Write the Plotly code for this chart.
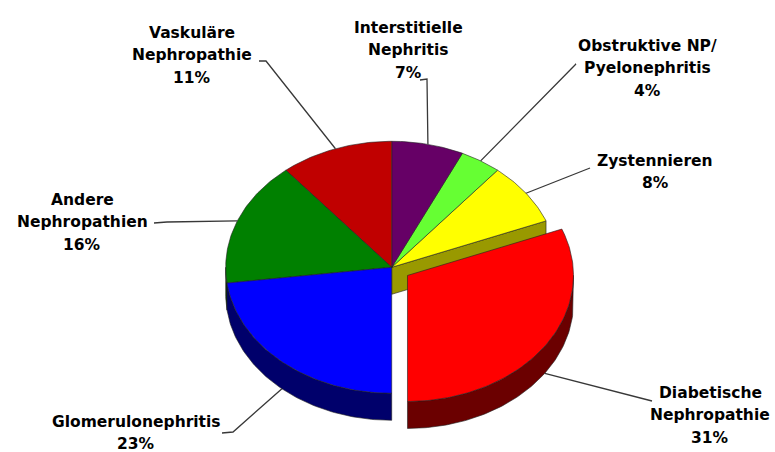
import math
import plotly.graph_objects as go

# Causes of end-stage renal disease (share of patients, %)
categories = [
    "Diabetische Nephropathie",
    "Zystennieren",
    "Obstruktive NP/ Pyelonephritis",
    "Interstitielle Nephritis",
    "Vaskuläre Nephropathie",
    "Andere Nephropathien",
    "Glomerulonephritis",
]
shares = [31, 8, 4, 7, 11, 16, 23]
label_lines = [
    ["Diabetische", "Nephropathie"],
    ["Zystennieren"],
    ["Obstruktive NP/", "Pyelonephritis"],
    ["Interstitielle", "Nephritis"],
    ["Vaskuläre", "Nephropathie"],
    ["Andere", "Nephropathien"],
    ["Glomerulonephritis"],
]
colors = ["#FF0000", "#FFFF00", "#66FF33", "#660066", "#C00000", "#008000", "#0000FF"]
exploded = [True, False, False, False, False, False, False]

# Tilted-disc geometry (paper pixels)
CX, CY = 391.7, 267.3
RX, RY = 166.0, 126.0
DEPTH = 27.0
START = -90.0          # first slice starts straight down, runs counter-clockwise
PULL = 0.115

# Label placement: text centre (x, y of block middle) and leader elbow points
LINE_GAP = 22.5
label_pos = [
    (710, 415), (655, 172), (647, 68), (408, 50),
    (192, 55), (82, 222), (136, 433),
]
leader_elbows = [
    [(652, 401)],
    [(590, 168)],
    [(576, 64), (570, 70)],
    [(427, 79), (420, 80)],
    [(266, 61), (259, 61)],
    [(167, 222), (154, 223)],
    [(233, 432), (222, 433)],
]


def shade(hex_color, f):
    h = hex_color.lstrip("#")
    r, g, b = (int(h[i:i + 2], 16) for i in (0, 2, 4))
    return "rgb(%d,%d,%d)" % (r * f, g * f, b * f)


def point(t_deg, off=(0.0, 0.0), down=0.0):
    t = math.radians(t_deg)
    return CX + off[0] + RX * math.cos(t), CY + off[1] - RY * math.sin(t) + down


def arc(a0, a1, off, down=0.0):
    n = max(2, int(abs(a1 - a0)) + 1)
    return [point(a0 + (a1 - a0) * i / (n - 1), off, down) for i in range(n)]


# slice angle ranges
bounds = []
acc = START
for v in shares:
    span = 360.0 * v / sum(shares)
    bounds.append((acc, acc + span))
    acc += span

offsets = []
for (a0, a1), ex in zip(bounds, exploded):
    m = math.radians((a0 + a1) / 2)
    offsets.append((PULL * RX * math.cos(m), -PULL * RY * math.sin(m)) if ex else (0.0, 0.0))

fig = go.Figure()


def add_poly(pts, fill, line_color="#202020", width=0.6):
    xs = [p[0] for p in pts] + [pts[0][0]]
    ys = [p[1] for p in pts] + [pts[0][1]]
    fig.add_trace(go.Scatter(
        x=xs, y=ys, mode="lines", fill="toself", fillcolor=fill,
        line=dict(color=line_color, width=width), hoverinfo="skip", showlegend=False,
    ))


def front_parts(a0, a1):
    # parts of the outer rim that face the viewer (lower half of the ellipse)
    parts = []
    base = a0 - (a0 % 360)
    for k in (-360, 0, 360):
        lo, hi = base + k + 180, base + k + 360
        s, e = max(a0, lo), min(a1, hi)
        if e > s:
            parts.append((s, e))
    return parts


def draw_walls(i):
    a0, a1 = bounds[i]
    off = offsets[i]
    for s, e in front_parts(a0, a1):
        top = arc(s, e, off)
        bot = arc(e, s, off, DEPTH)
        add_poly(top + bot, shade(colors[i], 0.42))
    # radial faces opening into a gap next to an exploded neighbour
    n = len(shares)
    for edge, nb, normal in ((a0, (i - 1) % n, a0 - 90), (a1, (i + 1) % n, a1 + 90)):
        if exploded[nb] != exploded[i] and math.sin(math.radians(normal)) < -1e-6:
            c = (CX + off[0], CY + off[1])
            p = point(edge, off)
            add_poly([c, p, (p[0], p[1] + DEPTH), (c[0], c[1] + DEPTH)], shade(colors[i], 0.6))


def draw_top(i):
    a0, a1 = bounds[i]
    off = offsets[i]
    add_poly([(CX + off[0], CY + off[1])] + arc(a0, a1, off), colors[i])


order_back = [i for i in range(len(shares)) if not exploded[i]]
order_front = [i for i in range(len(shares)) if exploded[i]]
for i in order_back:
    draw_walls(i)
for i in order_back:
    draw_top(i)
for i in order_front:
    draw_walls(i)
    draw_top(i)

# leader lines and labels
annotations = []
for i, v in enumerate(shares):
    a0, a1 = bounds[i]
    m = (a0 + a1) / 2
    down = DEPTH if math.sin(math.radians(m)) < 0 else 0.0
    anchor = point(m, offsets[i], down)
    path = [anchor] + leader_elbows[i]
    fig.add_trace(go.Scatter(
        x=[p[0] for p in path], y=[p[1] for p in path], mode="lines",
        line=dict(color="#383838", width=1.3), hoverinfo="skip", showlegend=False,
    ))
    lines = label_lines[i] + [f"{v}%"]
    for k, line in enumerate(lines):
        annotations.append(dict(
            x=label_pos[i][0], y=label_pos[i][1] + (k - (len(lines) - 1) / 2) * LINE_GAP,
            xref="x", yref="y", text=line, showarrow=False,
            xanchor="center", yanchor="middle", align="center",
            font=dict(family="DejaVu Sans", size=15.5, color="#000000", weight="bold"),
        ))

fig.update_layout(
    width=775, height=452,
    margin=dict(l=0, r=0, t=0, b=0),
    paper_bgcolor="white", plot_bgcolor="white",
    xaxis=dict(range=[0, 775], visible=False, fixedrange=True),
    yaxis=dict(range=[452, 0], visible=False, fixedrange=True),
    annotations=annotations,
    showlegend=False,
)

fig.write_html("out.html")
